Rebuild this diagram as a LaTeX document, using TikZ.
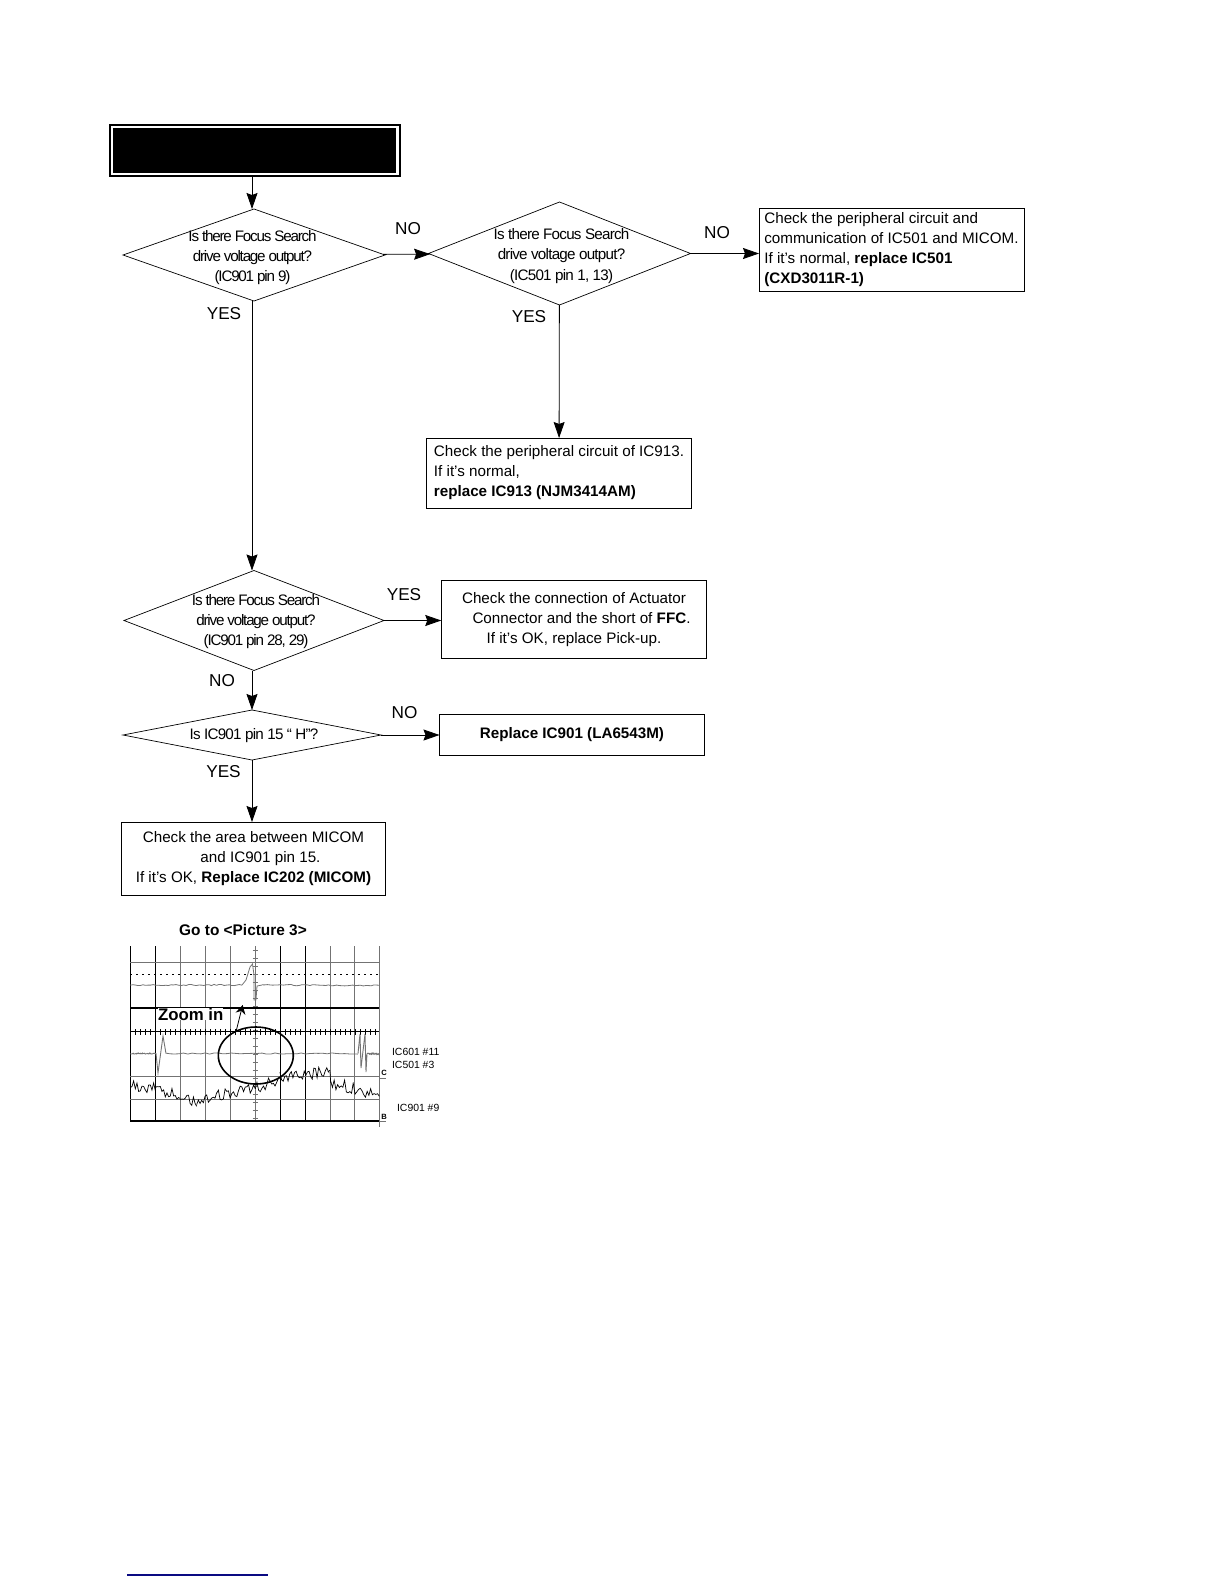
\documentclass[tikz,border=0pt]{standalone}
\usepackage{fontspec}
\setmainfont{Liberation Sans}
\newfontfamily\asktight[LetterSpace=-8]{Liberation Sans}
\newfontfamily\askloose[LetterSpace=-5]{Liberation Sans}
\usetikzlibrary{arrows.meta,shapes.geometric}
\definecolor{scopegray}{gray}{0.45}
\definecolor{footblue}{RGB}{10,10,130}
\tikzset{
  askshape/.style={diamond,draw,inner sep=0pt,outer sep=0pt,line width=0.35pt},
  asktext/.style={align=center,inner sep=0pt,font=\fontsize{7.6}{10.2}\selectfont},
  chkbox/.style={draw,align=left,inner sep=0pt,outer sep=0pt,line width=0.5pt,font=\fontsize{7.6}{10}\selectfont},
  flag/.style={inner sep=0pt,font=\fontsize{8.6}{10}\selectfont},
  probe/.style={inner sep=0pt,font=\fontsize{5.2}{6}\selectfont},
  flow/.style={->,line width=0.4pt}
}
\begin{document}
\begin{tikzpicture}[x=0.5pt,y=-0.5pt,>={Stealth[length=8pt,width=5.5pt,inset=1pt]}]
\useasboundingbox (0,0) rectangle (1224,1584);
% flow chart
\node[draw,line width=1pt,inner sep=0pt,outer sep=0pt,minimum width=145pt,minimum height=25.5pt] (head) at (254.5,150.5) {};
\node[fill=black,inner sep=0pt,minimum width=141.5pt,minimum height=22pt] (headfill) at (head) {};
\node[askshape,minimum width=131pt,minimum height=46pt] (d1) at (254,255) {};
\node[askshape,minimum width=131pt,minimum height=51.5pt] (d2) at (559.5,253.5) {};
\node[askshape,minimum width=130pt,minimum height=50pt] (d3) at (254,620.5) {};
\node[askshape,minimum width=129pt,minimum height=25pt] (d4) at (252,735) {};
\node[asktext] (t1) at (252.5,257.5) {\asktight Is there Focus Search\\\asktight drive voltage output?\\\asktight (IC901 pin 9)};
\node[asktext] (t2) at (561.5,256) {\askloose Is there Focus Search\\\askloose drive voltage output?\\\askloose (IC501 pin 1, 13)};
\node[asktext] (t3) at (256,621.5) {\asktight Is there Focus Search\\\asktight drive voltage output?\\\asktight (IC901 pin 28, 29)};
\node[asktext] (t4) at (254,735.5) {\askloose Is IC901 pin 15 “ H”?};
\node[chkbox,minimum width=132.5pt,minimum height=41.5pt] (r1) at (891.5,250) {Check the peripheral circuit and\\communication of IC501 and MICOM.\\If it’s normal, \textbf{replace IC501}\\\textbf{(CXD3011R-1)}};
\node[chkbox,minimum width=132.75pt,minimum height=35pt] (r2) at (559,473) {Check the peripheral circuit of IC913.\\If it’s normal,\\\textbf{replace IC913 (NJM3414AM)}};
\node[chkbox,align=center,minimum width=132.75pt,minimum height=38.75pt] (r3) at (574,619.5) {Check the connection of Actuator\\\hspace*{7.5pt}Connector and the short of \textbf{FFC}.\\If it’s OK, replace Pick-up.};
\node[chkbox,align=center,minimum width=132.5pt,minimum height=20.5pt] (r4) at (572,735) {\textbf{Replace IC901 (LA6543M)}};
\node[chkbox,align=center,minimum width=132pt,minimum height=36.5pt] (r5) at (253.5,858.5) {Check the area between MICOM\\\hspace*{7pt}and IC901 pin 15.\\If it’s OK, \textbf{Replace IC202 (MICOM)}};
\draw[flow] (head.south -| d4.north) -- (d4.north |- d1.north);
\draw[flow] (d1) -- (d2);
\draw[flow] (d2.east) -- (d2.east -| r1.west);
\draw[flow] (d2) -- (r2);
\draw[flow] (d4.north |- d1.south) -- (d4.north |- d3.north);
\draw[flow] (d3.east) -- (d3.east -| r3.west);
\draw[flow] (d4.north |- d3.south) -- (d4.north);
\draw[flow] (d4) -- (r4);
\draw[flow] (d4.south) -- (d4.south |- r5.north);
\node[flag] (no1) at (408,229) {NO};
\node[flag] (no2) at (717,233) {NO};
\node[flag] (yes1) at (224,313.5) {YES};
\node[flag] (yes2) at (529,317) {YES};
\node[flag] (yes3) at (404,595) {YES};
\node[flag] (no3) at (222,681) {NO};
\node[flag] (no4) at (404.5,713) {NO};
\node[flag] (yes4) at (223.5,771.5) {YES};
% scope picture
\node[inner sep=0pt,font=\fontsize{7.7}{9}\selectfont\bfseries] (goto) at (243,930) {Go to <Picture 3>};
\foreach \gx in {180.3,205.7,230.3,255.3,330.3,354.3}
  \draw[scopegray,line width=0.45pt] (\gx,946) -- (\gx,1121);
\foreach \gx in {130.3,155.3,280.3,305.3}
  \draw[line width=0.55pt] (\gx,946) -- (\gx,1121);
\draw[scopegray,line width=0.5pt] (379.3,946) -- (379.3,1127);
\foreach \gy in {962,1076,1099}
  \draw[scopegray,line width=0.4pt] (130.3,\gy) -- (379.3,\gy);
\foreach \gy in {1008,1121}
  \draw[line width=0.55pt] (130.3,\gy) -- (379.3,\gy);
\draw[line width=0.6pt] (130.3,1031.7) -- (379.3,1031.7);
\draw[line width=0.4pt,dash pattern=on 1pt off 2pt] (130.3,974) -- (379.3,974);
\foreach \ty in {950,958,...,1121}
  \draw[scopegray,line width=0.35pt] (252.5,\ty) -- (258,\ty);
\foreach \tx in {135,140,...,375}
  \draw[line width=0.35pt] (\tx,1029) -- (\tx,1034.5);
\draw[scopegray,line width=0.4pt] (379.3,1078) -- (386,1078);
\draw[scopegray,line width=0.4pt] (379.3,1121) -- (386,1121);
% traces
\pgfmathsetseed{7}
\foreach \xa/\ya/\xb/\yb in {130.3/985/242/985,262/985/379.3/985.5,130.3/1053.5/156/1053.5,166/1053.5/358/1053.5,367/1053.5/379.3/1054}
  \draw[scopegray,line width=0.4pt] plot[domain=0:1,samples=45] ({\xa+(\xb-\xa)*\x},{\ya+(\yb-\ya)*\x+0.6*rand});
\draw[scopegray,line width=0.4pt] (242,985) -- (246,980) -- (250,967) -- (252.5,964) -- (254,975) -- (254,1000) -- (256,1000) -- (257,986) -- (262,985);
\draw[scopegray,line width=0.45pt] (156,1053.5) -- (158,1073) -- (163,1036) -- (166,1053.5);
\draw[scopegray,line width=0.45pt] (358,1053.5) -- (360,1034) -- (361,1068) -- (365,1034) -- (366,1072) -- (367,1053.5);
\foreach \xa/\ya/\xb/\yb/\nn in {130.3/1085/155.3/1088.3/16,155.3/1088.3/180.3/1096.7/16,180.3/1096.7/196.7/1103.3/11,196.7/1103.3/216.7/1095/13,216.7/1095/255.3/1088.3/24,255.3/1088.3/280/1078/16,280/1078/330/1071.7/32,330.7/1083/353.3/1088/14,353.3/1088/379.3/1096.7/16}
  \draw[line width=0.35pt] plot[domain=0:1,samples=\nn] ({\xa+(\xb-\xa)*\x},{\ya+(\yb-\ya)*\x+6*rand});
\draw[line width=0.35pt] (330,1071.7) -- (330.7,1083);
\draw[line width=0.8pt] (255.8,1055.5) ellipse [x radius=37.5,y radius=28.5];
\node[fill=white,inner sep=0pt,font=\fontsize{8.4}{10}\selectfont\bfseries] (zoomin) at (190.7,1014) {Zoom in};
\coordinate (zoomfoot) at (236,1031.7);
\coordinate (zoomtip) at (242.7,1005);
\draw[->,>={Stealth[length=4.5pt,width=5pt]},line width=0.4pt] (zoomfoot) -- (zoomtip);
\node[probe,anchor=west] (ic601) at (391.7,1051.7) {IC601 \#11};
\node[probe,anchor=west] (ic501) at (391.7,1065) {IC501 \#3};
\node[probe,anchor=west] (ic901) at (396.7,1108) {IC901 \#9};
\node[inner sep=0pt,font=\fontsize{3.8}{4}\selectfont\bfseries] (chc) at (384,1072.7) {C};
\node[inner sep=0pt,font=\fontsize{3.8}{4}\selectfont\bfseries] (chb) at (384,1117) {B};
% foot rule
\draw[footblue,line width=0.6pt] (127,1575) -- (268,1575);
\end{tikzpicture}
\end{document}
